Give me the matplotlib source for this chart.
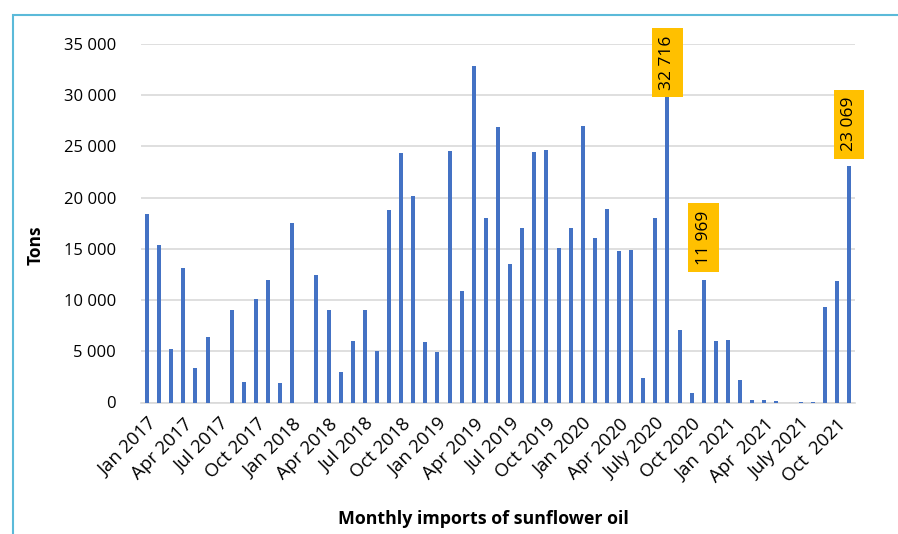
import matplotlib
matplotlib.use("Agg")
import matplotlib.pyplot as plt
from matplotlib.patches import Rectangle

# monthly imports, tons, Jan 2017 .. Nov 2021
TONS = [
    18400, 15400, 5200, 13100, 3400, 6400, 0, 9000, 2000, 10100, 12000, 1900,
    17500, 0, 12400, 9000, 3000, 6000, 9000, 5000, 18800, 24400, 20200, 5900,
    4900, 24600, 10900, 32900, 18000, 26900, 13500, 17000, 24500, 24700, 15100, 17000,
    27000, 16100, 18900, 14800, 14900, 2400, 18000, 32716, 7100, 900, 11969, 6000,
    6150, 2150, 230, 290, 160, 0, 30, 30, 9300, 11850, 23069,
]

TICK_LABELS = [
    "Jan 2017", "Apr 2017", "Jul 2017", "Oct 2017",
    "Jan 2018", "Apr 2018", "Jul 2018", "Oct 2018",
    "Jan 2019", "Apr 2019", "Jul 2019", "Oct 2019",
    "Jan 2020", "Apr 2020", "July 2020", "Oct 2020",
    "Jan  2021", "Apr  2021", "July 2021", "Oct  2021",
]

# months that get a value callout
LABELLED = [43, 46, 58]

BAR_COLOR = "#4472C4"
CALLOUT_COLOR = "#FFC000"
GRID_COLOR = "#D9D9D9"
FRAME_COLOR = "#5BBAD9"

plt.rcParams["font.family"] = ["Open Sans", "DejaVu Sans"]


def fmt_thousands(v):
    return f"{int(round(v)):,}".replace(",", " ")


fig = plt.figure(figsize=(8.98, 5.34), dpi=100)
ax = fig.add_axes([141 / 898, 1 - 402.5 / 534, 714 / 898, (402.5 - 44) / 534])
ax_h = 402.5 - 44

x = list(range(len(TONS)))
ax.bar(x, TONS, width=0.33, color=BAR_COLOR, zorder=3)

ax.set_xlim(-0.5, len(TONS) - 0.5)
ax.set_ylim(0, 35000)
ax.set_yticks(range(0, 35001, 5000))
ax.set_yticklabels([fmt_thousands(v) for v in range(0, 35001, 5000)], fontsize=12)
ax.yaxis.grid(True, color=GRID_COLOR, linewidth=1.2, zorder=0)

ax.set_xticks(x[::3])
ax.set_xticklabels(TICK_LABELS, rotation=45, ha="right", rotation_mode="anchor",
                   fontsize=13.3)
ax.tick_params(axis="both", length=0)
ax.tick_params(axis="x", pad=9)
ax.tick_params(axis="y", pad=18)

for side in ("top", "right", "left"):
    ax.spines[side].set_visible(False)
ax.spines["bottom"].set_color(GRID_COLOR)
ax.spines["bottom"].set_linewidth(1.2)

ax.set_ylabel("Tons", fontsize=12.5, fontweight="bold")
ax.yaxis.set_label_coords(-96 / 714, 0.44)
ax.set_xlabel("Monthly imports of sunflower oil", fontsize=12.8, fontweight="bold")
ax.xaxis.set_label_coords(0.479, -(510 - 402.5) / ax_h)

# callouts sit just above the bar; the tallest one is pushed down to stay in frame
lift = {43: 5}
for i in LABELLED:
    ax.annotate(fmt_thousands(TONS[i]), (i, TONS[i]),
                xytext=(0, lift.get(i, 42)), textcoords="offset pixels",
                rotation=90, ha="center", va="center", fontsize=12.5,
                annotation_clip=False, zorder=5,
                bbox=dict(boxstyle="square,pad=0.42", fc=CALLOUT_COLOR, ec="none"))

# chart frame
fig.patches.append(Rectangle((13 / 898, -0.1), 1.0, 1.1 - 15.5 / 534,
                             transform=fig.transFigure, fill=False,
                             edgecolor=FRAME_COLOR, linewidth=1.5))

fig.savefig("out.png", dpi=100)
